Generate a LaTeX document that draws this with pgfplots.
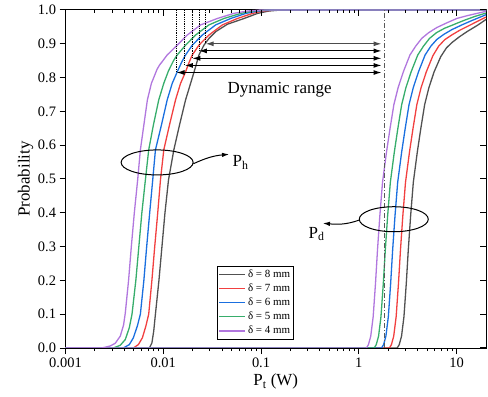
\documentclass[border=0pt]{standalone}
\usepackage{fontspec}
\setmainfont{Liberation Serif}
\usepackage{pgfplots}
\pgfplotsset{compat=1.18}
\usetikzlibrary{arrows.meta}
\definecolor{cblack}{HTML}{515151}
\definecolor{cred}{HTML}{F14040}
\definecolor{cblue}{HTML}{1A6FDF}
\definecolor{cgreen}{HTML}{37AD6B}
\definecolor{cpurple}{HTML}{B177DE}
\begin{document}
\begin{tikzpicture}
\path[use as bounding box] (0bp,0bp) rectangle (488bp,397bp);
\begin{axis}[
  at={(65.5bp,49bp)}, anchor=south west,
  scale only axis, width=420.5bp, height=338bp,
  xmode=log, xmin=0.001, xmax=20, ymin=0, ymax=1,
  xtick={0.001,0.01,0.1,1,10}, xticklabels={0.001,0.01,0.1,1,10},
  ytick={0,0.1,0.2,0.3,0.4,0.5,0.6,0.7,0.8,0.9,1.0},
  yticklabel style={/pgf/number format/.cd, fixed, fixed zerofill, precision=1},
  /pgf/number format/assume math mode=true,
  tick align=outside, xtick pos=left, ytick pos=left,
  major tick length=6bp, minor tick length=3bp,
  tick style={line width=1bp, black},
  axis line style={line width=1bp, black},
  tick label style={font=\fontsize{14.5}{16}\selectfont},
  xlabel={P\textsubscript{t} (W)},
  xlabel style={font=\fontsize{17}{20}\selectfont, at={(axis description cs:0.5,-0.111)}, anchor=base},
  ylabel={Probability},
  ylabel style={font=\fontsize{17}{20}\selectfont, at={(axis description cs:-0.0951,0.5)}, anchor=center},
  legend style={at={(0.5434,0.0257)}, anchor=south east, font=\fontsize{11}{12}\selectfont,
    draw=black, line width=0.7bp, inner sep=1.5bp, row sep=1bp},
  legend cell align=left,
  legend image code/.code={\draw[#1, line width=1.3bp] (0bp,0bp) -- (26bp,0bp);},
  every axis plot/.append style={line width=1.3bp},
]
% delta = 8 mm
\addplot[cblack] coordinates {(0.001,0) (0.007214,0) (0.007653,0.015) (0.007988,0.05) (0.008315,0.1) (0.009032,0.2) (0.009697,0.3) (0.01041,0.4) (0.01131,0.497) (0.01282,0.586) (0.01467,0.66) (0.01691,0.734) (0.01904,0.783) (0.02142,0.832) (0.02317,0.867) (0.02608,0.896) (0.02936,0.916) (0.0344,0.936) (0.04537,0.958) (0.06721,0.975) (0.09228,0.99) (0.1206,0.997) (0.1601,1.0) (20,1)};
\addlegendentry{δ = 8 mm}
\addplot[cblack, forget plot] coordinates {(0.001,0) (2.472,0) (2.592,0.01) (2.736,0.035) (2.897,0.093) (3.058,0.19) (3.207,0.29) (3.387,0.39) (3.610,0.49) (3.967,0.58) (4.312,0.65) (4.716,0.72) (5.208,0.77) (5.891,0.817) (6.889,0.862) (7.882,0.888) (9.086,0.905) (10.72,0.921) (12.95,0.937) (16.42,0.955) (20,0.972)};
% delta = 7 mm
\addplot[cred] coordinates {(0.001,0) (0.00494,0) (0.005561,0.01) (0.006113,0.03) (0.006641,0.065) (0.007096,0.1) (0.007653,0.2) (0.008178,0.3) (0.00878,0.4) (0.009359,0.497) (0.01012,0.586) (0.01158,0.66) (0.01335,0.734) (0.01503,0.783) (0.01691,0.817) (0.01837,0.845) (0.01982,0.867) (0.02317,0.896) (0.02936,0.926) (0.04031,0.956) (0.05747,0.975) (0.08195,0.99) (0.1046,0.997) (0.1423,1.0) (20,1)};
\addlegendentry{δ = 7 mm}
\addplot[cred, forget plot] coordinates {(0.001,0) (2.056,0) (2.156,0.01) (2.276,0.035) (2.410,0.093) (2.544,0.19) (2.668,0.29) (2.818,0.39) (3.003,0.49) (3.300,0.58) (3.587,0.65) (3.924,0.72) (4.333,0.77) (4.902,0.817) (5.731,0.865) (6.558,0.893) (7.559,0.912) (8.917,0.926) (10.77,0.94) (13.66,0.955) (17.3,0.97) (20,0.979)};
% delta = 6 mm
\addplot[cblue] coordinates {(0.001,0) (0.003899,0) (0.004494,0.01) (0.00494,0.03) (0.005431,0.065) (0.005832,0.1) (0.006333,0.2) (0.006767,0.3) (0.007265,0.4) (0.007801,0.497) (0.008315,0.586) (0.009583,0.66) (0.01097,0.734) (0.01235,0.783) (0.0139,0.817) (0.01539,0.845) (0.01691,0.867) (0.01982,0.896) (0.02511,0.926) (0.0344,0.956) (0.04906,0.975) (0.06997,0.99) (0.09228,0.997) (0.1264,1.0) (20,1)};
\addlegendentry{δ = 6 mm}
\addplot[cblue, forget plot] coordinates {(0.001,0) (1.711,0) (1.793,0.01) (1.893,0.035) (2.005,0.093) (2.116,0.19) (2.219,0.29) (2.344,0.39) (2.498,0.49) (2.745,0.58) (2.984,0.65) (3.264,0.72) (3.604,0.77) (4.077,0.817) (4.767,0.867) (5.454,0.893) (6.288,0.913) (7.417,0.928) (8.96,0.942) (11.36,0.956) (14.39,0.969) (20,0.986)};
% delta = 5 mm
\addplot[cgreen] coordinates {(0.001,0) (0.003078,0) (0.003632,0.008) (0.004088,0.025) (0.004494,0.06) (0.00479,0.1) (0.005242,0.2) (0.005628,0.3) (0.00604,0.4) (0.006563,0.497) (0.007096,0.586) (0.007931,0.66) (0.008991,0.734) (0.01012,0.783) (0.01131,0.82) (0.01273,0.85) (0.0139,0.867) (0.01691,0.896) (0.02142,0.926) (0.02936,0.956) (0.04186,0.975) (0.06214,0.99) (0.08254,0.997) (0.1123,1.0) (20,1)};
\addlegendentry{δ = 5 mm}
\addplot[cgreen, forget plot] coordinates {(0.001,0) (1.439,0) (1.508,0.01) (1.593,0.035) (1.686,0.093) (1.780,0.19) (1.867,0.29) (1.971,0.39) (2.101,0.49) (2.309,0.58) (2.510,0.65) (2.745,0.72) (3.031,0.77) (3.429,0.817) (4.010,0.867) (4.588,0.893) (5.289,0.916) (6.238,0.933) (7.537,0.946) (9.556,0.958) (12.1,0.970) (15.4,0.981) (20,0.991)};
% delta = 4 mm
\addplot[cpurple] coordinates {(0.001,0) (0.002355,0) (0.002867,0.006) (0.003227,0.014) (0.003632,0.035) (0.003926,0.068) (0.004088,0.103) (0.00442,0.201) (0.004713,0.3) (0.005058,0.4) (0.00547,0.497) (0.005832,0.586) (0.006333,0.66) (0.00688,0.734) (0.007564,0.783) (0.008656,0.825) (0.0092,0.838) (0.009743,0.847) (0.01097,0.867) (0.0139,0.896) (0.0176,0.926) (0.02412,0.956) (0.03581,0.975) (0.05266,0.99) (0.07285,0.997) (0.1,1.0) (20,1)};
\addlegendentry{δ = 4 mm}
\addplot[cpurple, forget plot] coordinates {(0.001,0) (1.197,0) (1.255,0.01) (1.325,0.035) (1.403,0.093) (1.481,0.19) (1.553,0.29) (1.640,0.39) (1.748,0.49) (1.921,0.58) (2.088,0.65) (2.284,0.72) (2.522,0.77) (2.853,0.817) (3.336,0.867) (3.817,0.893) (4.40,0.916) (5.19,0.933) (6.27,0.948) (7.95,0.962) (10.07,0.975) (12.76,0.983) (16.17,0.99) (20,0.996)};
% annotations
\draw[color=black!65, dash pattern=on 5bp off 2bp on 1bp off 2bp, line width=0.9bp] (axis cs:1.846,0) -- (axis cs:1.846,1);
\draw[densely dotted, line width=0.8bp] (axis cs:0.01367,1) -- (axis cs:0.01367,0.815);
\draw[densely dotted, line width=0.8bp] (axis cs:0.01663,1) -- (axis cs:0.01663,0.836);
\draw[densely dotted, line width=0.8bp] (axis cs:0.01982,1) -- (axis cs:0.01982,0.857);
\draw[densely dotted, line width=0.8bp] (axis cs:0.02317,1) -- (axis cs:0.02317,0.879);
\draw[densely dotted, line width=0.8bp] (axis cs:0.02715,1) -- (axis cs:0.02715,0.90);
\draw[black!70, line width=1bp, {Latex[length=8bp,width=5bp]}-{Latex[length=8bp,width=5bp]}] (axis cs:0.02715,0.90) -- (axis cs:1.707,0.90);
\draw[line width=1bp, {Latex[length=8bp,width=5bp]}-{Latex[length=8bp,width=5bp]}] (axis cs:0.02317,0.879) -- (axis cs:1.707,0.879);
\draw[line width=1bp, {Latex[length=8bp,width=5bp]}-{Latex[length=8bp,width=5bp]}] (axis cs:0.01982,0.857) -- (axis cs:1.707,0.857);
\draw[line width=1bp, {Latex[length=8bp,width=5bp]}-{Latex[length=8bp,width=5bp]}] (axis cs:0.01663,0.836) -- (axis cs:1.707,0.836);
\draw[line width=1bp, {Latex[length=8bp,width=5bp]}-{Latex[length=8bp,width=5bp]}] (axis cs:0.01367,0.815) -- (axis cs:1.707,0.815);
\node[anchor=base west, inner sep=0pt, font=\fontsize{17}{20}\selectfont] at (axis cs:0.04537,0.7536) {Dynamic range};
\draw[line width=1bp] (axis cs:0.008656,0.549) ellipse [x radius=36bp, y radius=12.5bp];
\draw[line width=1bp, -{Latex[length=7bp,width=4.5bp]}] (axis cs:0.0203,0.545) to[out=25,in=185] (axis cs:0.0471,0.573);
\node[anchor=base west, inner sep=0pt, font=\fontsize{17}{20}\selectfont] at (axis cs:0.05108,0.5364) {P\textsubscript{h}};
\draw[line width=1bp] (axis cs:2.279,0.381) ellipse [x radius=34.5bp, y radius=12.5bp];
\draw[line width=1bp, -{Latex[length=7bp,width=4.5bp]}] (axis cs:1.022,0.379) to[out=200,in=-5] (axis cs:0.4295,0.369);
\node[anchor=base west, inner sep=0pt, font=\fontsize{17}{20}\selectfont] at (axis cs:0.3055,0.3246) {P\textsubscript{d}};
\end{axis}
\begin{axis}[
  at={(65.5bp,49bp)}, anchor=south west,
  scale only axis, width=420.5bp, height=338bp,
  xmode=log, xmin=0.001, xmax=20, ymin=0, ymax=1,
  xtick={0.001,0.01,0.1,1,10}, xticklabels={},
  ytick={0,0.1,0.2,0.3,0.4,0.5,0.6,0.7,0.8,0.9,1.0}, yticklabels={},
  tick align=inside, xtick pos=right, ytick pos=right,
  major tick length=6bp, minor tick length=3bp,
  tick style={line width=1bp, black},
  axis line style={draw=none},
]
\end{axis}
\end{tikzpicture}
\end{document}
